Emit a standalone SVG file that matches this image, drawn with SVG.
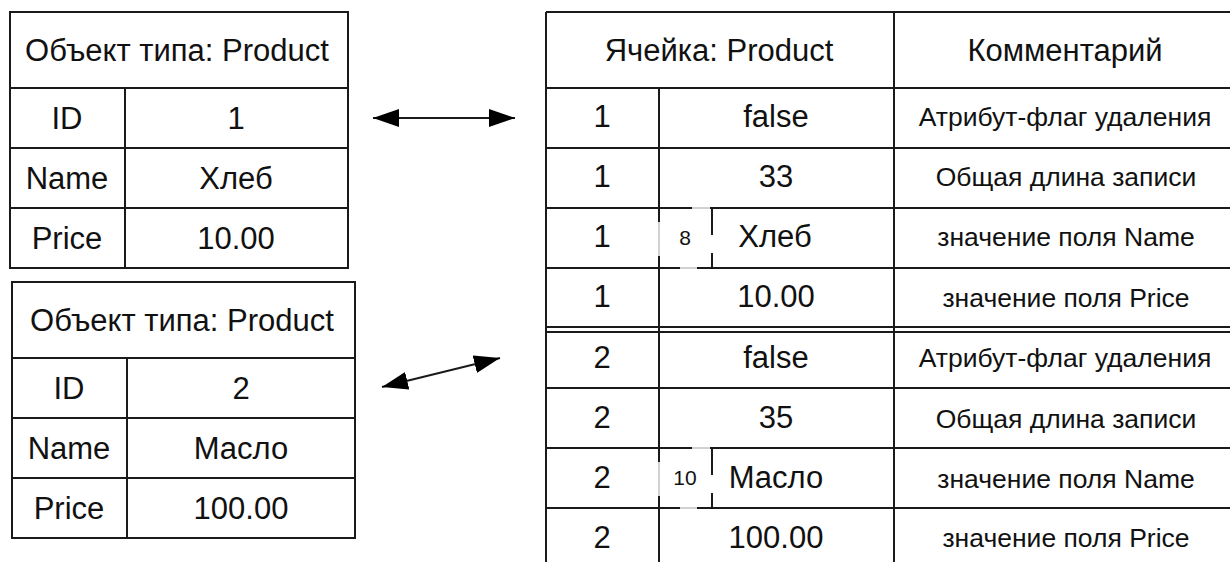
<svg xmlns="http://www.w3.org/2000/svg" width="1230" height="562" viewBox="0 0 1230 562">
<defs>
<style>
.ln{stroke:#1a1a1a;stroke-width:2;fill:none}
.t{font-family:"Liberation Sans",Arial,sans-serif;font-size:31px;fill:#111;text-anchor:middle;dominant-baseline:central}
.c{font-family:"Liberation Sans",Arial,sans-serif;font-size:26.5px;fill:#111;text-anchor:middle;dominant-baseline:central}
.s{font-family:"Liberation Sans",Arial,sans-serif;font-size:21px;fill:#111;text-anchor:middle;dominant-baseline:central}
.ar{stroke:#1a1a1a;stroke-width:2;fill:none}
</style>
<marker id="ah" viewBox="0 0 26 18" refX="26" refY="9" markerWidth="26" markerHeight="18" markerUnits="userSpaceOnUse" orient="auto-start-reverse">
<path d="M0,0 L26,9 L0,18 Z" fill="#000"/>
</marker>
</defs>
<rect width="1230" height="562" fill="#fff"/>

<g id="obj1">
<rect class="ln" x="10" y="12" width="338" height="256"/>
<path class="ln" d="M10,88H348M10,148H348M10,208H348M125,88V268"/>
<text class="t" x="177" y="50">Объект типа: Product</text>
<text class="t" x="67" y="118">ID</text>
<text class="t" x="236" y="118">1</text>
<text class="t" x="67" y="178">Name</text>
<text class="t" x="236" y="178">Хлеб</text>
<text class="t" x="67" y="238">Price</text>
<text class="t" x="236" y="238">10.00</text>
</g>

<g id="obj2">
<rect class="ln" x="12" y="282" width="343" height="256"/>
<path class="ln" d="M12,358H355M12,418H355M12,478H355M127,358V538"/>
<text class="t" x="182" y="320">Объект типа: Product</text>
<text class="t" x="69" y="388">ID</text>
<text class="t" x="241" y="388">2</text>
<text class="t" x="69" y="448">Name</text>
<text class="t" x="241" y="448">Масло</text>
<text class="t" x="69" y="508">Price</text>
<text class="t" x="241" y="508">100.00</text>
</g>

<g id="cells">
<path class="ln" d="M546,12H1230M546,12V562M894,12V562M546,88H1230M659,88V562M546,148H1230M546,208H1230M546,268H1230M546,327H1230M546,332H1230M546,388H1230M546,448H1230M546,508H1230"/>
<path d="M712,208V268M712,448V508" stroke="#1a1a1a" stroke-width="2" stroke-dasharray="27,18,15"/>
<path d="M692,208H710M680,268H697M659,222V256M692,448H710M680,508H697M659,462V496" stroke="#fff" stroke-width="2" opacity="0.8"/>
<text class="t" x="719" y="50">Ячейка: Product</text>
<text class="t" x="1065" y="50">Комментарий</text>
<text class="t" x="602" y="116">1</text>
<text class="t" x="776" y="116">false</text>
<text class="c" x="1065" y="117">Атрибут-флаг удаления</text>
<text class="t" x="602" y="176">1</text>
<text class="t" x="776" y="176">33</text>
<text class="c" x="1066" y="177">Общая длина записи</text>
<text class="t" x="602" y="236">1</text>
<text class="s" x="685" y="237">8</text>
<text class="t" x="775" y="236">Хлеб</text>
<text class="c" x="1066" y="237">значение поля Name</text>
<text class="t" x="602" y="296">1</text>
<text class="t" x="776" y="296">10.00</text>
<text class="c" x="1066" y="298">значение поля Price</text>
<text class="t" x="602" y="357">2</text>
<text class="t" x="776" y="357">false</text>
<text class="c" x="1065" y="358">Атрибут-флаг удаления</text>
<text class="t" x="602" y="417">2</text>
<text class="t" x="776" y="417">35</text>
<text class="c" x="1066" y="419">Общая длина записи</text>
<text class="t" x="602" y="477">2</text>
<text class="s" x="685" y="477">10</text>
<text class="t" x="776" y="477">Масло</text>
<text class="c" x="1066" y="479">значение поля Name</text>
<text class="t" x="602" y="537">2</text>
<text class="t" x="776" y="537">100.00</text>
<text class="c" x="1066" y="538">значение поля Price</text>
</g>

<g id="connectors">
<line class="ar" x1="373" y1="118" x2="515" y2="118" marker-start="url(#ah)" marker-end="url(#ah)"/>
<line class="ar" x1="382" y1="387" x2="500" y2="358" marker-start="url(#ah)" marker-end="url(#ah)"/>
</g>
</svg>
